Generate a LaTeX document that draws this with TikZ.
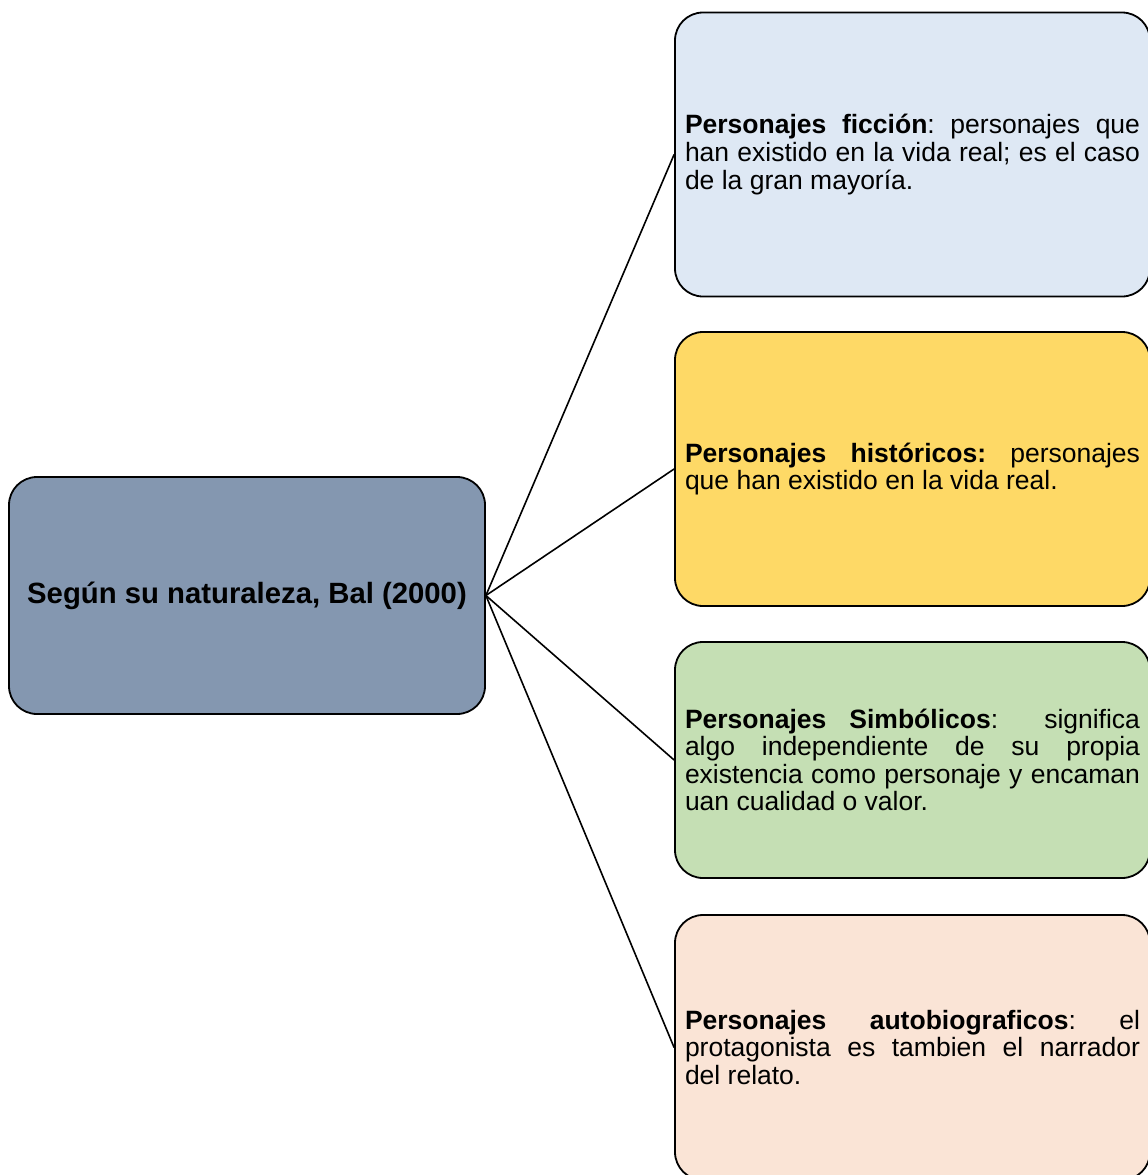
\documentclass[tikz,border=0pt]{standalone}
\usepackage{fontspec}
\setmainfont{Liberation Sans}
\frenchspacing
\definecolor{cblue}{HTML}{DEE8F4}
\definecolor{cyellow}{HTML}{FED966}
\definecolor{cgreen}{HTML}{C5DFB4}
\definecolor{cpeach}{HTML}{FAE4D6}
\definecolor{cslate}{HTML}{8497B0}
\tikzset{
  box/.style={draw=black, line width=1.8pt, rounded corners=28pt, inner sep=0pt,
    text width=455pt, minimum width=475pt, align=justify,
    font=\fontsize{26.5}{27.6}\selectfont\frenchspacing},
  mainbox/.style={draw=black, line width=1.8pt, rounded corners=28pt, fill=cslate,
    minimum width=476pt, minimum height=237pt, align=center,
    font=\fontsize{29.3}{32}\selectfont\bfseries},
  link/.style={draw=black, line width=1.6pt}
}
\begin{document}
\begin{tikzpicture}[x=1pt,y=-1pt]
\useasboundingbox (0,0) rectangle (1148,1175);
\clip (0,0) rectangle (1148,1175);
\node[mainbox] (c) at (247,595.5) {Según su naturaleza, Bal (2000)};
\node[box, fill=cblue, minimum height=284pt] (b1) at (912.5,154.5)
  {\textbf{Personajes ficción}: personajes que\linebreak han existido en la vida real; es el caso\linebreak de la gran mayoría.};
\node[box, fill=cyellow, minimum height=274pt] (b2) at (912.5,469)
  {\textbf{Personajes históricos:} personajes\linebreak que han existido en la vida real.};
\node[box, fill=cgreen, minimum height=236pt] (b3) at (912.5,760)
  {\textbf{Personajes Simbólicos}:\ \ significa\linebreak algo independiente de su propia\linebreak existencia como personaje y encaman\linebreak uan cualidad o valor.};
\node[box, fill=cpeach, minimum height=265pt] (b4) at (912.5,1047.5)
  {\textbf{Personajes autobiograficos}: el\linebreak protagonista es tambien el narrador\linebreak del relato.};
\draw[link] (c.east) -- (b1.west);
\draw[link] (c.east) -- (b2.west);
\draw[link] (c.east) -- (b3.west);
\draw[link] (c.east) -- (b4.west);
\end{tikzpicture}
\end{document}
